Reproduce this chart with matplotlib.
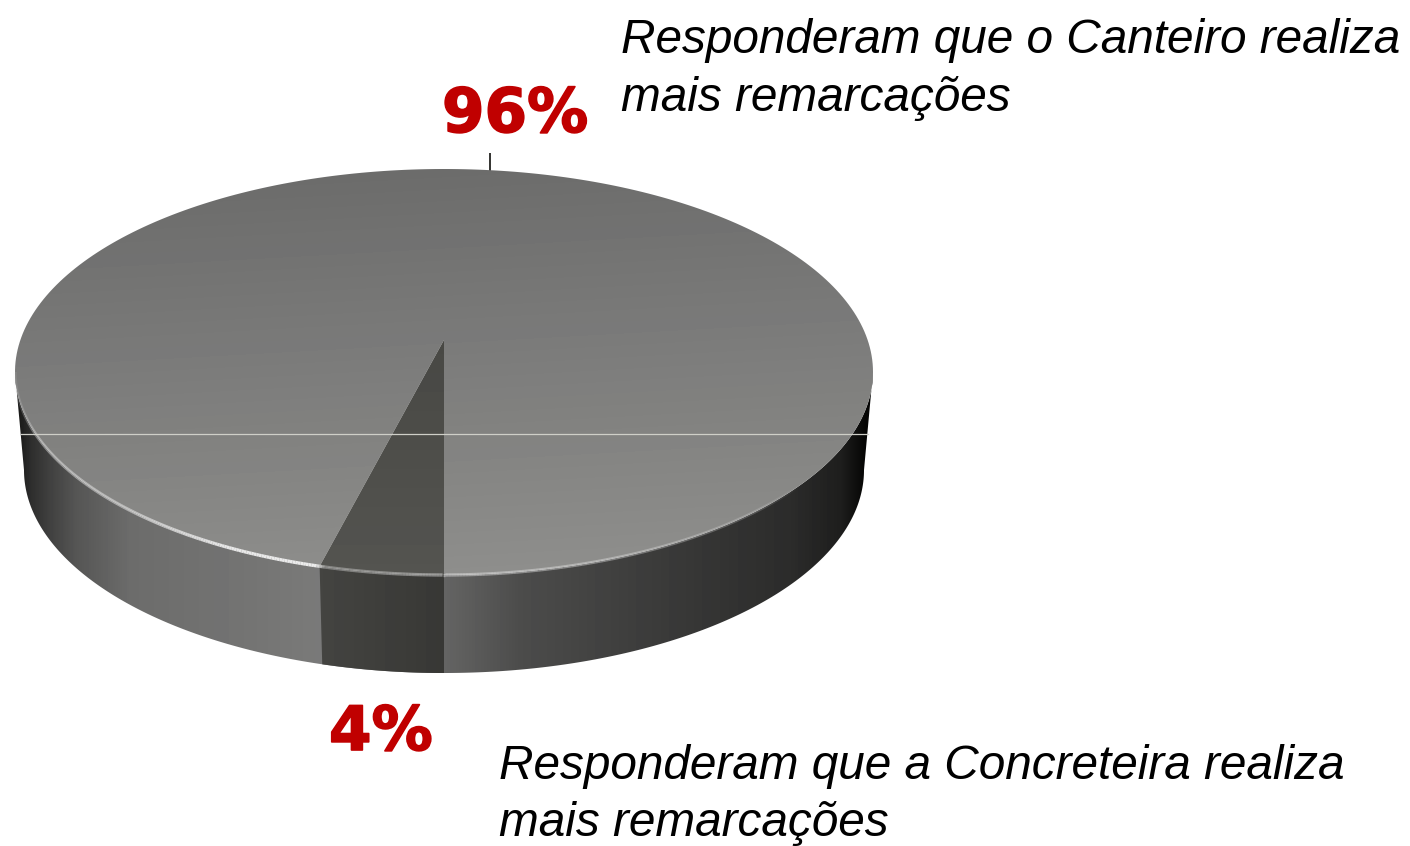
import matplotlib
matplotlib.use("Agg")
import matplotlib.pyplot as plt
import matplotlib.patheffects as pe
import numpy as np
from matplotlib.collections import LineCollection
from matplotlib.colors import LinearSegmentedColormap
from matplotlib.patches import PathPatch
from matplotlib.path import Path

# Data
categories = ["Concreteira", "Canteiro"]
values = [4, 96]
value_labels = ["4%", "96%"]
line1 = "Responderam que o Canteiro realiza\nmais remarcações"
line2 = "Responderam que a Concreteira realiza\nmais remarcações"

W, H = 1410, 846
CX = 444
TOP_CY, TOP_RX, RY = 372, 429, 203
LOW_CY, LOW_RX = 470, 420
TILT = 0.158  # how far the pie centre is pushed back by the perspective
# angle where the projected circle reaches its left and right extremes
EDGE = np.degrees(np.arcsin(TILT))

plt.rcParams["font.family"] = ["Liberation Sans", "DejaVu Sans"]
fig = plt.figure(figsize=(W / 100, H / 100), dpi=100)
ax = fig.add_axes([0, 0, 1, 1])

# the 4% slice ends pointing straight at the viewer
wedges, _ = ax.pie(values, startangle=270 - values[0] * 3.6)
thetas = [(w.theta1, w.theta2) for w in wedges]
for w in wedges:
    w.remove()
ax.set_aspect("auto")


def project(theta_deg, r=1.0, cy=TOP_CY, rx=TOP_RX):
    t = np.radians(theta_deg)
    u, v = r * np.cos(t), r * np.sin(t)
    d = 1 + TILT * v
    x = u * np.sqrt(1 - TILT ** 2) / d
    y = (v + TILT) / d
    return CX + rx * x, cy - RY * y


def slice_path(t1, t2):
    a = np.linspace(t1, t2, 300)
    xs, ys = project(a)
    cx, cy = project(0.0, r=0.0)
    pts = np.column_stack([np.r_[cx, xs, cx], np.r_[cy, ys, cy]])
    return Path(pts, closed=True)


def side_path(t1, t2):
    a = np.linspace(t1, t2, 300)
    xs, ys = project(a)
    xl, yl = project(a[::-1], cy=LOW_CY, rx=LOW_RX)
    return Path(np.column_stack([np.r_[xs, xl, xs[0]], np.r_[ys, yl, ys[0]]]), closed=True)


def fill(path, arr, cmap):
    im = ax.imshow(arr, extent=[0, W, H, 0], aspect="auto", cmap=cmap, vmin=0, vmax=255,
                   interpolation="bilinear", zorder=2)
    clip = PathPatch(path, transform=ax.transData, fc="none", ec="none")
    ax.add_patch(clip)
    im.set_clip_path(clip)


warm_gray = LinearSegmentedColormap.from_list("warm", ["#000000", "#fffffd"])
dark_warm = LinearSegmentedColormap.from_list("dark_warm", ["#000000", "#fffff4"])
xx, yy = np.meshgrid(np.arange(W), np.arange(H))

# front wall
wall_x = [0, 18, 30, 50, 75, 130, 250, 320, 445, 470, 520, 600, 700, 790, 840, 866, W]
wall_v = [15, 25, 45, 65, 85, 108, 116, 122, 100, 92, 76, 66, 54, 44, 30, 5, 0]
wall = np.interp(xx, wall_x, wall_v)
fill(side_path(180 + EDGE, 360 - EDGE), wall, warm_gray)

# wall of the 4% slice
dark_wall = np.interp(xx, [320, 444], [68, 56])
fill(side_path(*thetas[0]), dark_wall, dark_warm)

# top faces
top = 108 + (yy - 170) / 405 * 34 + (xx - CX) / TOP_RX * 2
fill(slice_path(*thetas[1]), top, warm_gray)
dark_top = 72 + (yy - 340) / 230 * 12
fill(slice_path(*thetas[0]), dark_top, dark_warm)

# rim highlight on the front edge
a = np.linspace(180 + EDGE, 360 - EDGE, 500)
xs, ys = project(a)
segs = np.stack([np.column_stack([xs[:-1], ys[:-1]]), np.column_stack([xs[1:], ys[1:]])], axis=1)
mid = (xs[:-1] + xs[1:]) / 2
rim_alpha = np.interp(mid, [15, 40, 130, 230, 315, 325, 444, 600, 760, 800], [.1, .45, .55, .95, 1, .35, .45, .4, .2, 0])
rim_rgb = np.ones((len(mid), 4)) * 0.93
rim_rgb[:, 3] = rim_alpha
ax.add_collection(LineCollection(segs, colors=rim_rgb, linewidths=2.4, zorder=3))

# seams, leader and the stray light line
ax.plot([21, 868], [434.5, 434.5], color="#cfcfc8", lw=0.9, zorder=4)
ax.plot([490, 490], [153, 172], color="#333330", lw=1.4, zorder=1, solid_capstyle="butt")

# labels
heavy = [pe.withStroke(linewidth=1.2, foreground="#c00000")]
ax.text(442, 132, value_labels[1], color="#c00000", fontsize=44, fontweight="bold",
        family="DejaVu Sans", ha="left", va="baseline", path_effects=heavy)
ax.text(329, 750, value_labels[0], color="#c00000", fontsize=44, fontweight="bold",
        family="DejaVu Sans", ha="left", va="baseline", path_effects=heavy)
ax.text(621, 53, line1.split("\n")[0], fontsize=34.4, style="italic", color="black", va="baseline")
ax.text(621, 111, line1.split("\n")[1], fontsize=34.4, style="italic", color="black", va="baseline")
ax.text(499, 779, line2.split("\n")[0], fontsize=34.4, style="italic", color="black", va="baseline")
ax.text(499, 836, line2.split("\n")[1], fontsize=34.4, style="italic", color="black", va="baseline")

ax.set_xlim(0, W)
ax.set_ylim(H, 0)
ax.axis("off")
fig.savefig("out.png", dpi=100, facecolor="white")
